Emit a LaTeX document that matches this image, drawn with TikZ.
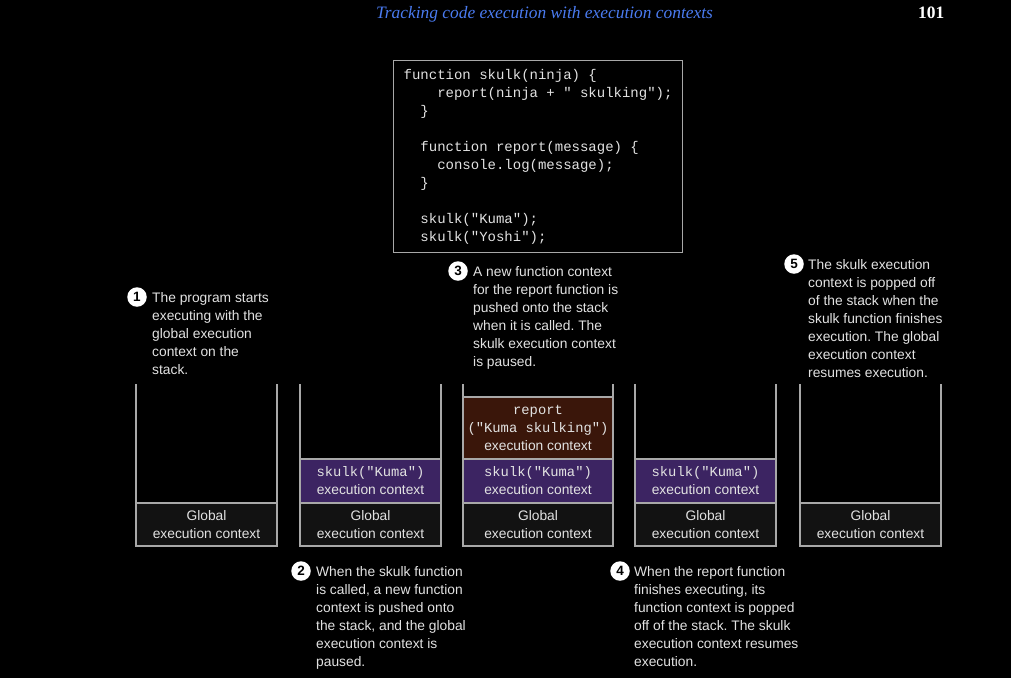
\documentclass[tikz,border=0pt]{standalone}
\usepackage{fontspec}
\setmainfont{Liberation Serif}
\setsansfont{Liberation Sans}
\setmonofont{Liberation Mono}[WordSpace={1,0,0}]
\usetikzlibrary{positioning}
\frenchspacing

\definecolor{headblue}{HTML}{4A7BF0}
\definecolor{wallgray}{HTML}{A8A8A8}
\definecolor{globalfill}{HTML}{121212}
\definecolor{skulkfill}{HTML}{3C2462}
\definecolor{reportfill}{HTML}{3A160A}
\definecolor{textgray}{HTML}{E2E2E2}

\newcommand{\mono}[1]{{\ttfamily #1}}
\newcommand{\ind}[1]{\phantom{#1}}

\tikzset{
  wall/.style={draw=wallgray, line width=1.2pt},
  frame/.style={draw=wallgray, line width=1.2pt, outer sep=0pt, inner sep=0pt,
    align=center, text=textgray, font=\sffamily\fontsize{13.8}{18}\selectfont},
  globalbox/.style={frame, fill=globalfill, minimum height=43pt},
  skulkbox/.style={frame, fill=skulkfill, minimum height=44pt},
  reportbox/.style={frame, fill=reportfill, minimum height=62pt},
  note/.style={anchor=north west, align=left, inner sep=0pt, text=textgray,
    font=\sffamily\fontsize{13.8}{18}\selectfont},
  num/.style={circle, fill=white, text=black, inner sep=0pt, minimum size=19.5pt,
    font=\sffamily\bfseries\fontsize{13.5}{13.5}\selectfont}
}

\begin{document}
\begin{tikzpicture}[x=1pt, y=1pt]
    % Hintergrund
    \fill[black] (0,0) rectangle (1011,-678);
    \useasboundingbox (0,0) rectangle (1011,-678);

    % Kopfzeile
    \node[anchor=base west, inner sep=0pt, text=headblue,
      font=\itshape\fontsize{17.4}{17.4}\selectfont] (title) at (376,-18)
      {Tracking code execution with execution contexts};
    \node[anchor=base west, inner sep=0pt, text=white,
      font=\bfseries\fontsize{17.4}{17.4}\selectfont] (page) at (918,-18) {101};

    % Code
    \node[draw=wallgray, line width=1.2pt, anchor=north west, align=left,
      inner xsep=0pt, inner ysep=8.5pt, minimum width=289pt, minimum height=192pt,
      text=textgray, font=\ttfamily\fontsize{14}{18}\selectfont] (code) at (393,-60)
      {function skulk(ninja) \{\\
       \ind{xxxx}report(ninja + " skulking");\\
       \ind{xx}\}\\[18pt]
       \ind{xx}function report(message) \{\\
       \ind{xxxx}console.log(message);\\
       \ind{xx}\}\\[18pt]
       \ind{xx}skulk("Kuma");\\
       \ind{xx}skulk("Yoshi");};

    % Stapel
    \foreach \l/\r in {136/277, 300/441, 463/613, 635/776, 800/941}
        \draw[wall] (\l,-384) -- (\l,-546) -- (\r,-546) -- (\r,-384);

    \node[globalbox, minimum width=141pt, anchor=south west] (g1) at (136,-546) {Global\\execution context};
    \node[globalbox, minimum width=141pt, anchor=south west] (g2) at (300,-546) {Global\\execution context};
    \node[globalbox, minimum width=150pt, anchor=south west] (g3) at (463,-546) {Global\\execution context};
    \node[globalbox, minimum width=141pt, anchor=south west] (g4) at (635,-546) {Global\\execution context};
    \node[globalbox, minimum width=141pt, anchor=south west] (g5) at (800,-546) {Global\\execution context};

    \node[skulkbox, minimum width=141pt, above=0pt of g2] (s2) {\mono{skulk("Kuma")}\\execution context};
    \node[skulkbox, minimum width=150pt, above=0pt of g3] (s3) {\mono{skulk("Kuma")}\\execution context};
    \node[skulkbox, minimum width=141pt, above=0pt of g4] (s4) {\mono{skulk("Kuma")}\\execution context};
    \node[reportbox, minimum width=150pt, above=0pt of s3] (r3) {\mono{report}\\\mono{("Kuma skulking")}\\execution context};

    % Erklaerungen
    \node[note] (t1) at (152,-292) {The program starts\\executing with the\\global execution\\context on the\\stack.};
    \node[note] (t2) at (316,-566) {When the skulk function\\is called, a new function\\context is pushed onto\\the stack, and the global\\execution context is\\paused.};
    \node[note] (t3) at (473,-266) {A new function context\\for the report function is\\pushed onto the stack\\when it is called. The\\skulk execution context\\is paused.};
    \node[note] (t4) at (634,-566) {When the report function\\finishes executing, its\\function context is popped\\off of the stack. The skulk\\execution context resumes\\execution.};
    \node[note] (t5) at (808,-259) {The skulk execution\\context is popped off\\of the stack when the\\skulk function finishes\\execution. The global\\execution context\\resumes execution.};

    \node[num] (n1) at ([xshift=-15pt, yshift=-5pt]t1.north west) {1};
    \node[num] (n2) at ([xshift=-15pt, yshift=-5pt]t2.north west) {2};
    \node[num] (n3) at ([xshift=-15pt, yshift=-5pt]t3.north west) {3};
    \node[num] (n4) at ([xshift=-14pt, yshift=-5pt]t4.north west) {4};
    \node[num] (n5) at ([xshift=-14pt, yshift=-5pt]t5.north west) {5};
\end{tikzpicture}
\end{document}
